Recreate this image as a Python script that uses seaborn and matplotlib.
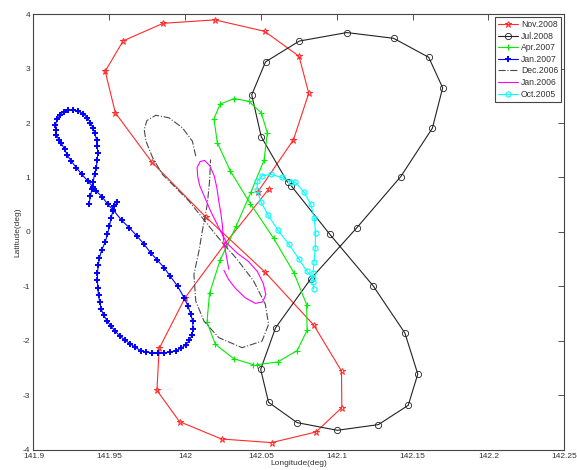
import numpy as np
import pandas as pd
import matplotlib
matplotlib.use("Agg")
import matplotlib.pyplot as plt
import seaborn as sns

# ---- data (lon, lat) ----
nov2008_lon = [142.0553, 142.0262, 142.0000, 141.9829, 141.9814, 141.9963, 142.0240, 142.0570,
               142.0863, 142.1033, 142.1031, 142.0848, 142.0524, 142.0137, 141.9781, 141.9540,
               141.9473, 141.9591, 141.9855, 142.0196, 142.0524, 142.0751, 142.0815, 142.0714,
               142.0478]
nov2008_lat = [0.793, -0.220, -1.207, -2.138, -2.908, -3.483, -3.802, -3.868,
               -3.673, -3.226, -2.554, -1.710, -0.730, 0.272, 1.281, 2.187,
               2.950, 3.508, 3.831, 3.894, 3.684, 3.226, 2.547, 1.692,
               0.730]

jul2008_lon = [142.0675, 142.0502, 142.0439, 142.0530, 142.0753, 142.1066, 142.1374, 142.1606,
               142.1698, 142.1630, 142.1422, 142.1132, 142.0828, 142.0596, 142.0498, 142.0550,
               142.0738, 142.1003, 142.1274, 142.1471, 142.1534, 142.1449, 142.1239, 142.0953,
               142.0699]
jul2008_lat = [0.914, 1.747, 2.517, 3.123, 3.505, 3.661, 3.556, 3.207,
               2.646, 1.905, 1.018, 0.077, -0.862, -1.761, -2.523, -3.128,
               -3.501, -3.642, -3.538, -3.183, -2.609, -1.857, -0.987, -0.040,
               0.848]

apr2007_lon = [142.0471, 142.0609, 142.0738, 142.0804, 142.0801, 142.0717, 142.0583, 142.0430,
               142.0297, 142.0212, 142.0190, 142.0230, 142.0323, 142.0420, 142.0502, 142.0542,
               142.0520, 142.0435, 142.0336, 142.0230, 142.0161, 142.0144, 142.0199, 142.0321,
               142.0450]
apr2007_lat = [-2.437, -2.389, -2.180, -1.807, -1.334, -0.749, -0.114, 0.519,
               1.123, 1.642, 2.077, 2.345, 2.450, 2.400, 2.187, 1.820,
               1.317, 0.739, 0.105, -0.523, -1.125, -1.653, -2.064, -2.327,
               -2.437]

jan2007_lon = [141.9366, 141.9376, 141.9386, 141.9392, 141.9403, 141.9414, 141.9420, 141.9425,
               141.9420, 141.9416, 141.9403, 141.9392, 141.9376, 141.9355, 141.9327, 141.9294,
               141.9261, 141.9228, 141.9199, 141.9178, 141.9158, 141.9145, 141.9151, 141.9151,
               141.9167, 141.9184, 141.9206, 141.9224, 141.9250, 141.9283, 141.9320, 141.9359,
               141.9392, 141.9414, 141.9453, 141.9490, 141.9527, 141.9582, 141.9632, 141.9685,
               141.9730, 141.9772, 141.9814, 141.9862, 141.9901, 141.9950, 141.9993, 142.0019,
               142.0037, 142.0050, 142.0052, 142.0045, 142.0028, 142.0004, 141.9974, 141.9938,
               141.9902, 141.9862, 141.9824, 141.9784, 141.9742, 141.9707, 141.9671, 141.9638,
               141.9602, 141.9568, 141.9538, 141.9512, 141.9486, 141.9463, 141.9447, 141.9437,
               141.9429, 141.9424, 141.9422, 141.9422, 141.9427, 141.9435, 141.9450, 141.9473,
               141.9488, 141.9501, 141.9512, 141.9523, 141.9534, 141.9552]
jan2007_lat = [0.517, 0.657, 0.793, 0.914, 1.055, 1.178, 1.317, 1.453,
               1.574, 1.697, 1.820, 1.912, 2.004, 2.095, 2.174, 2.217,
               2.235, 2.235, 2.211, 2.156, 2.077, 1.972, 1.881, 1.789,
               1.697, 1.624, 1.514, 1.404, 1.299, 1.178, 1.055, 0.932,
               0.829, 0.749, 0.646, 0.505, 0.400, 0.211, 0.077, -0.083,
               -0.229, -0.382, -0.510, -0.657, -0.811, -0.994, -1.207, -1.361,
               -1.514, -1.642, -1.776, -1.899, -1.991, -2.073, -2.134, -2.180,
               -2.206, -2.217, -2.224, -2.217, -2.206, -2.178, -2.119, -2.055,
               -1.982, -1.908, -1.820, -1.734, -1.633, -1.532, -1.422, -1.294,
               -1.165, -1.024, -0.881, -0.749, -0.615, -0.473, -0.330, -0.187,
               -0.042, 0.106, 0.261, 0.382, 0.473, 0.547]

dec2006_lon = [142.0070, 142.0048, 141.9982, 141.9894, 141.9807, 141.9748, 141.9730, 141.9742,
               141.9786, 141.9851, 141.9938, 142.0026, 142.0113, 142.0201, 142.0273, 142.0338,
               142.0452, 142.0529, 142.0550, 142.0507, 142.0376, 142.0222, 142.0124, 142.0070,
               142.0058, 142.0091, 142.0113, 142.0146, 142.0161, 142.0168]
dec2006_lat = [1.391, 1.666, 1.912, 2.095, 2.143, 2.046, 1.881, 1.666,
               1.361, 1.055, 0.811, 0.565, 0.261, -0.046, -0.284, -0.486,
               -0.903, -1.330, -1.697, -2.004, -2.125, -1.941, -1.637, -1.270,
               -0.780, -0.352, 0.015, 0.505, 0.927, 1.330]

jan2006_lon = [142.0288, 142.0270, 142.0253, 142.0245, 142.0235, 142.0222, 142.0210, 142.0191,
               142.0161, 142.0129, 142.0099, 142.0079, 142.0083, 142.0096, 142.0124, 142.0168,
               142.0222, 142.0277, 142.0345, 142.0417, 142.0476, 142.0515, 142.0532, 142.0512,
               142.0463, 142.0397, 142.0332, 142.0286, 142.0256]
jan2006_lat = [-0.688, -0.413, -0.138, 0.138, 0.358, 0.560, 0.798, 1.037,
               1.220, 1.312, 1.294, 1.183, 1.018, 0.853, 0.670, 0.382,
               0.077, -0.211, -0.394, -0.541, -0.725, -0.945, -1.147, -1.284,
               -1.312, -1.211, -1.037, -0.872, -0.706]

oct2005_lon = [142.0847, 142.0843, 142.0843, 142.0850, 142.0858, 142.0860, 142.0851, 142.0828,
               142.0784, 142.0727, 142.0701, 142.0637, 142.0568, 142.0509, 142.0476, 142.0474,
               142.0500, 142.0548, 142.0612, 142.0685, 142.0748, 142.0802, 142.0841]
oct2005_lat = [-1.042, -0.921, -0.749, -0.545, -0.294, -0.013, 0.257, 0.510,
               0.730, 0.910, 0.917, 1.000, 1.055, 1.033, 0.932, 0.771,
               0.554, 0.303, 0.033, -0.229, -0.490, -0.716, -0.853]

x_ticks = [141.9, 141.95, 142, 142.05, 142.1, 142.15, 142.2, 142.25]
x_tick_labels = ["141.9", "141.95", "142", "142.05", "142.1", "142.15", "142.2", "142.25"]
y_ticks = [-4, -3, -2, -1, 0, 1, 2, 3, 4]

sns.set_style("white")
plt.rcParams['font.family'] = ['Liberation Sans Narrow', 'Liberation Sans', 'DejaVu Sans']
plt.rcParams['axes.unicode_minus'] = False

fig = plt.figure(figsize=(5.77, 4.70), dpi=100)
ax = fig.add_axes([0.058, 0.043, 0.920, 0.927])

series = [
    ("Nov.2008", nov2008_lon, nov2008_lat, "#ff2a2a", "-", dict(marker="*", ms=5, mfc="none", mew=0.7)),
    ("Jul.2008", jul2008_lon, jul2008_lat, "#222222", "-", dict(marker="o", ms=4.5, mfc="none", mew=0.6)),
    ("Apr.2007", apr2007_lon, apr2007_lat, "#00ee00", "-", dict(marker="+", ms=5, mew=0.8)),
    ("Jan.2007", jan2007_lon, jan2007_lat, "#0000ff", "-", dict(marker="+", ms=5, mew=1.4)),
    ("Dec.2006", dec2006_lon, dec2006_lat, "#4a4a4a", "-.", dict()),
    ("Jan.2006", jan2006_lon, jan2006_lat, "#ff00ff", "-", dict()),
    ("Oct.2005", oct2005_lon, oct2005_lat, "#00ffff", "-", dict(marker="h", ms=4, mfc="none", mew=0.8)),
]

for name, lon, lat, color, ls, mk in series:
    df = pd.DataFrame({"lon": lon, "lat": lat})
    sns.lineplot(data=df, x="lon", y="lat", sort=False, estimator=None, ax=ax,
                 color=color, linestyle=ls, linewidth=0.8, label=name,
                 mec=color, **mk)

ax.set_xlim(141.9, 142.25)
ax.set_ylim(-4, 4)
ax.set_xticks(x_ticks)
ax.set_xticklabels(x_tick_labels)
ax.set_yticks(y_ticks)
ax.tick_params(direction="in", length=4, width=0.6, top=True, right=True,
               labelsize=6, colors="#333333", pad=2.5)
for sp in ax.spines.values():
    sp.set_color("#444444")
    sp.set_linewidth(0.8)
    sp.set_visible(True)

ax.set_xlabel("Longitude(deg)", fontsize=6, color="#333333", labelpad=0)
ax.set_ylabel("Latitude(deg)", fontsize=6, color="#333333", labelpad=1)

leg = ax.legend(loc="upper right", fontsize=6.2, fancybox=False, framealpha=1,
                edgecolor="#444444", handlelength=2.4, borderpad=0.35,
                labelspacing=0.3, handletextpad=0.3, borderaxespad=0.35)
leg.get_frame().set_linewidth(0.8)
for t in leg.get_texts():
    t.set_color("#333333")

fig.savefig("out.png", dpi=100)
